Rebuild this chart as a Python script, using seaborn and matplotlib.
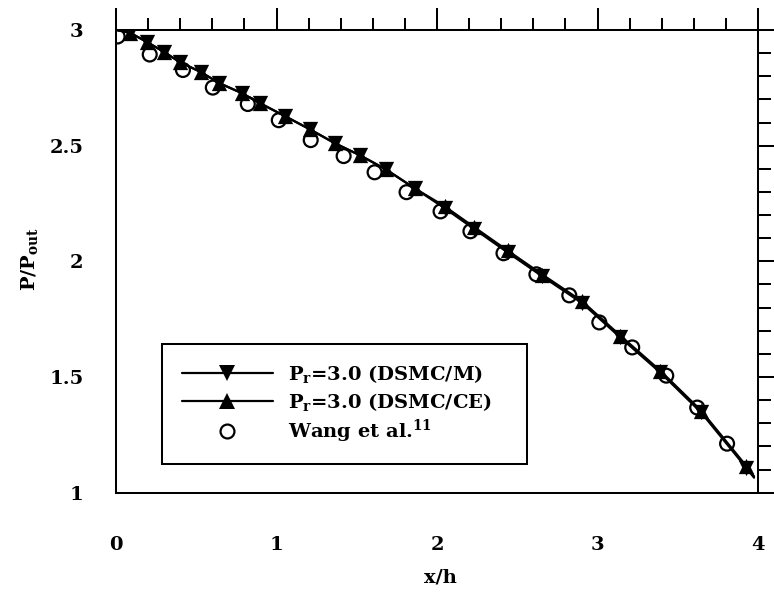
import matplotlib
matplotlib.use("Agg")
import matplotlib.pyplot as plt
from matplotlib.lines import Line2D
from matplotlib.ticker import MultipleLocator
import seaborn as sns

# Channel pressure distribution, P/P_out along x/h
x_dsmc = [0.000, 0.087, 0.193, 0.299, 0.398, 0.529, 0.641, 0.784, 0.896, 1.051,
          1.207, 1.362, 1.518, 1.680, 1.860, 2.047, 2.233, 2.439, 2.656, 2.905,
          3.142, 3.390, 3.645, 3.925, 3.975]
p_dsmc_m = [3.000, 2.988, 2.948, 2.905, 2.861, 2.818, 2.771, 2.727, 2.684, 2.628,
            2.571, 2.511, 2.459, 2.398, 2.316, 2.230, 2.139, 2.039, 1.935, 1.819,
            1.671, 1.520, 1.347, 1.109, 1.065]
p_dsmc_ce = [3.000, 2.988, 2.948, 2.905, 2.861, 2.818, 2.771, 2.727, 2.684, 2.628,
             2.571, 2.511, 2.459, 2.398, 2.316, 2.238, 2.147, 2.047, 1.943, 1.827,
             1.679, 1.528, 1.355, 1.117, 1.071]

x_wang = [0.010, 0.210, 0.417, 0.603, 0.821, 1.014, 1.213, 1.418, 1.611, 1.810,
          2.022, 2.208, 2.414, 2.619, 2.824, 3.011, 3.216, 3.428, 3.621, 3.807]
p_wang = [2.972, 2.894, 2.827, 2.751, 2.680, 2.610, 2.524, 2.455, 2.385, 2.299,
          2.216, 2.130, 2.035, 1.944, 1.853, 1.736, 1.628, 1.506, 1.368, 1.212]

label_m = "P$_r$=3.0 (DSMC/M)"
label_ce = "P$_r$=3.0 (DSMC/CE)"
label_wang = "Wang et al.$^{11}$"

x_ticks = [0, 1, 2, 3, 4]
x_tick_labels = ["0", "1", "2", "3", "4"]
y_ticks = [1, 1.5, 2, 2.5, 3]
y_tick_labels = ["1", "1.5", "2", "2.5", "3"]

sns.set_style("white")
plt.rcParams["font.family"] = ["DejaVu Serif"]
plt.rcParams["font.weight"] = "bold"
plt.rcParams["mathtext.default"] = "regular"
plt.rcParams["axes.linewidth"] = 1.45
for key in ("text.color", "axes.labelcolor", "xtick.color", "ytick.color",
            "xtick.labelcolor", "ytick.labelcolor", "axes.edgecolor"):
    plt.rcParams[key] = "black"

fig = plt.figure(figsize=(7.74, 5.95), dpi=100)
ax = fig.add_axes([0.1499, 0.1719, 0.8295, 0.7777])

lw = 1.6
sns.lineplot(x=x_dsmc, y=p_dsmc_m, ax=ax, color="black", linewidth=lw,
             sort=False, estimator=None, legend=False)
sns.lineplot(x=x_dsmc, y=p_dsmc_ce, ax=ax, color="black", linewidth=lw,
             sort=False, estimator=None, legend=False)

tri = 11
sns.scatterplot(x=x_dsmc[1:-1], y=p_dsmc_m[1:-1], ax=ax, marker="v", s=tri ** 2,
                color="black", edgecolor="black", linewidth=0, legend=False, zorder=3)
sns.scatterplot(x=x_dsmc[1:-1], y=p_dsmc_ce[1:-1], ax=ax, marker="^", s=tri ** 2,
                color="black", edgecolor="black", linewidth=0, legend=False, zorder=3)
circ = 10
sns.scatterplot(x=x_wang, y=p_wang, ax=ax, marker="o", s=circ ** 2,
                color="black", linewidth=1.5, legend=False, zorder=4)
wang_pts = ax.collections[-1]
wang_pts.set_facecolor("none")
wang_pts.set_edgecolor("black")
wang_pts.set_linewidth(1.6)

ax.set_xlim(0, 4)
ax.set_ylim(1, 3)
ax.set_xticks(x_ticks, x_tick_labels)
ax.set_yticks(y_ticks, y_tick_labels)
ax.xaxis.set_minor_locator(MultipleLocator(0.2))
ax.yaxis.set_minor_locator(MultipleLocator(0.1))
ax.tick_params(which="both", direction="out", top=True, right=True,
               width=1.45, color="black", labelcolor="black")
ax.tick_params(which="major", length=15.8)
ax.tick_params(which="minor", length=9)
ax.tick_params(axis="x", which="major", pad=15.5, labelsize=14)
ax.tick_params(axis="y", which="major", pad=7.5, labelsize=14)
for spine in ax.spines.values():
    spine.set_color("black")
    spine.set_linewidth(1.45)

ax.set_xlabel("x/h", fontsize=14, fontweight="bold", va="center", color="black")
ax.xaxis.set_label_coords(0.506, -0.184)
ax.set_ylabel("P/P$_{out}$", fontsize=14, fontweight="bold", va="center", color="black")
ax.yaxis.set_label_coords(-0.134, 0.505)

handles = [
    Line2D([], [], color="black", lw=lw, marker="v", markersize=tri, markeredgewidth=0),
    Line2D([], [], color="black", lw=lw, marker="^", markersize=tri, markeredgewidth=0),
    Line2D([], [], linestyle="none", marker="o", markersize=circ,
           markerfacecolor="none", markeredgecolor="black", markeredgewidth=1.6),
]
leg = ax.legend(handles, [label_m, label_ce, label_wang],
                loc="center", bbox_to_anchor=(0.0717, 0.064, 0.568, 0.255),
                mode="expand", borderaxespad=0, fontsize=14, frameon=True,
                fancybox=False, shadow=False, framealpha=1, edgecolor="black",
                handlelength=4.7, handletextpad=0.77, labelspacing=0.27,
                borderpad=1.0, numpoints=1, scatterpoints=1)
leg.get_frame().set_linewidth(1.45)
for t in leg.get_texts():
    t.set_fontweight("bold")
    t.set_color("black")

fig.savefig("out.png", dpi=100)
